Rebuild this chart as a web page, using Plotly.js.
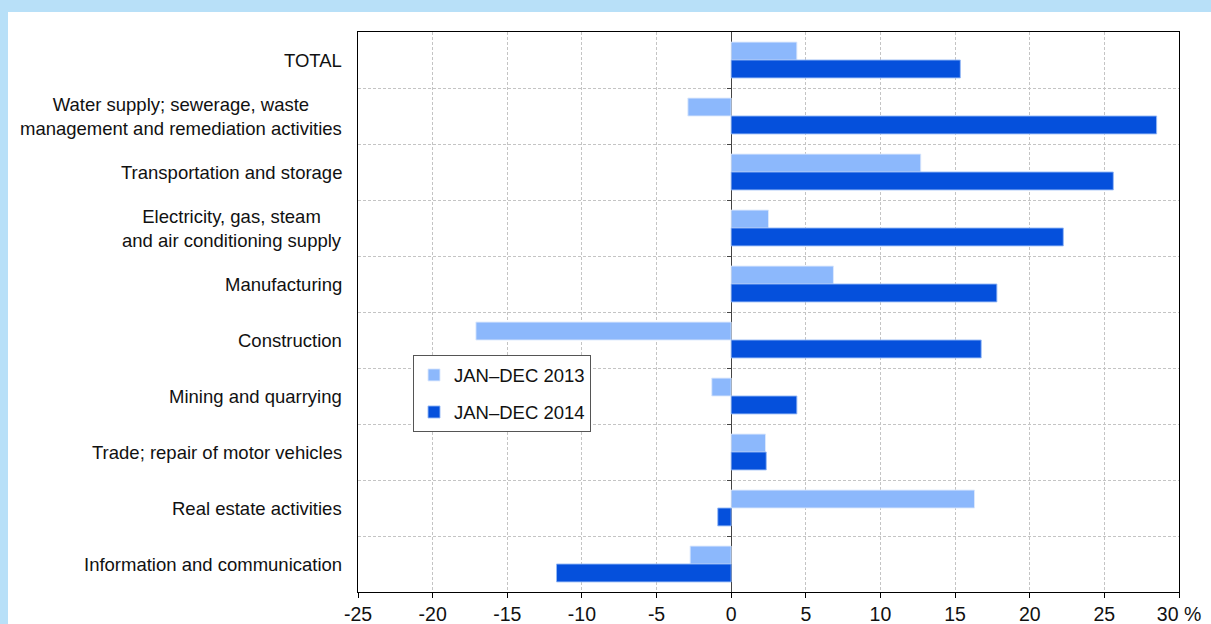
<!DOCTYPE html>
<html>
<head>
<meta charset="utf-8">
<script src="https://cdn.plot.ly/plotly-3.0.1.min.js"></script>
<style>
  html, body { margin: 0; padding: 0; background: #b8e0f8; width: 1211px; height: 624px; overflow: hidden; }
  #chart { position: absolute; left: 8px; top: 12px; width: 1203px; height: 612px; background: #fff; }
</style>
</head>
<body>
<div id="chart"></div>
<script>
const categories = [
  "TOTAL",
  "Water supply; sewerage, waste<br>management and remediation activities",
  "Transportation and storage",
  "Electricity, gas, steam<br>and air conditioning supply",
  "Manufacturing",
  "Construction",
  "Mining and quarrying",
  "Trade; repair of motor vehicles",
  "Real estate activities",
  "Information and communication"
];
const values2013 = [4.4, -2.9, 12.7, 2.5, 6.85, -17.1, -1.3, 2.3, 16.3, -2.75];
const values2014 = [15.35, 28.5, 25.6, 22.25, 17.8, 16.75, 4.4, 2.35, -0.9, -11.7];
const seriesNames = ["JAN\u2013DEC 2013", "JAN\u2013DEC 2014"];
const xTickVals = [-25, -20, -15, -10, -5, 0, 5, 10, 15, 20, 25, 30];
const xTickText = ["-25", "-20", "-15", "-10", "-5", "0", "5", "10", "15", "20", "25", "30 %"];

const pos = categories.map((c, i) => i);
const boundaries = categories.slice(1).map((c, i) => i + 0.5);

const font = { family: "Liberation Sans, Arial, sans-serif", size: 18.5, color: "#111" };
const tickFont = { family: "Liberation Sans, Arial, sans-serif", size: 19.5, color: "#111" };

const traces = [
  {
    type: "bar", orientation: "h", name: seriesNames[0], legendgroup: "a",
    x: values2013, y: pos,
    marker: { color: "#8cb8fc", line: { color: "rgba(220,232,252,0.9)", width: 1 } },
    hoverinfo: "x"
  },
  {
    type: "bar", orientation: "h", name: seriesNames[1], legendgroup: "b",
    x: values2014, y: pos,
    marker: { color: "#0550dc", line: { color: "rgba(150,185,245,0.9)", width: 1 } },
    hoverinfo: "x"
  },
  {
    type: "scatter", x: [0], y: [0], yaxis: "y2", mode: "none",
    showlegend: false, hoverinfo: "skip"
  }
];

const annotations = categories.map((c, i) => ({
  text: c, x: 0, xref: "paper", y: i, yref: "y",
  xanchor: "right", yanchor: "middle", align: "center",
  xshift: -14, showarrow: false, font: font
}));

const zeroPos = (0 - (-25)) / (30 - (-25));

const layout = {
  width: 1203, height: 612,
  margin: { l: 350, r: 32, t: 20, b: 32 },
  paper_bgcolor: "#ffffff",
  plot_bgcolor: "#ffffff",
  font: font,
  barmode: "group",
  bargap: 0.36,
  bargroupgap: 0,
  showlegend: true,
  legend: {
    x: 0.067, y: 0.4225, xanchor: "left", yanchor: "top",
    bordercolor: "#555", borderwidth: 1, bgcolor: "#fff",
    traceorder: "grouped", tracegroupgap: 10,
    font: font, itemwidth: 30
  },
  xaxis: {
    range: [-25, 30], tickvals: xTickVals, ticktext: xTickText,
    showgrid: true, gridcolor: "#c4c4c4", griddash: "3px,2px", gridwidth: 1,
    zeroline: true, zerolinecolor: "#444", zerolinewidth: 1,
    showline: true, linecolor: "#000", linewidth: 1, mirror: true,
    ticks: "outside", ticklen: 5, tickcolor: "#000",
    tickfont: tickFont, fixedrange: true
  },
  yaxis: {
    range: [9.5, -0.5], tickvals: boundaries, showticklabels: false,
    showgrid: true, gridcolor: "#c4c4c4", griddash: "3px,2px", gridwidth: 1,
    zeroline: false, ticks: "",
    showline: true, linecolor: "#000", linewidth: 1, mirror: true,
    fixedrange: true
  },
  yaxis2: {
    overlaying: "y", anchor: "free", position: zeroPos,
    range: [9.5, -0.5], tickvals: boundaries, showticklabels: false,
    showgrid: false, zeroline: false, showline: false,
    ticks: "outside", ticklen: 4, tickcolor: "#444", fixedrange: true
  },
  annotations: annotations
};

Plotly.newPlot("chart", traces, layout, { displayModeBar: false, staticPlot: true });
</script>
</body>
</html>
